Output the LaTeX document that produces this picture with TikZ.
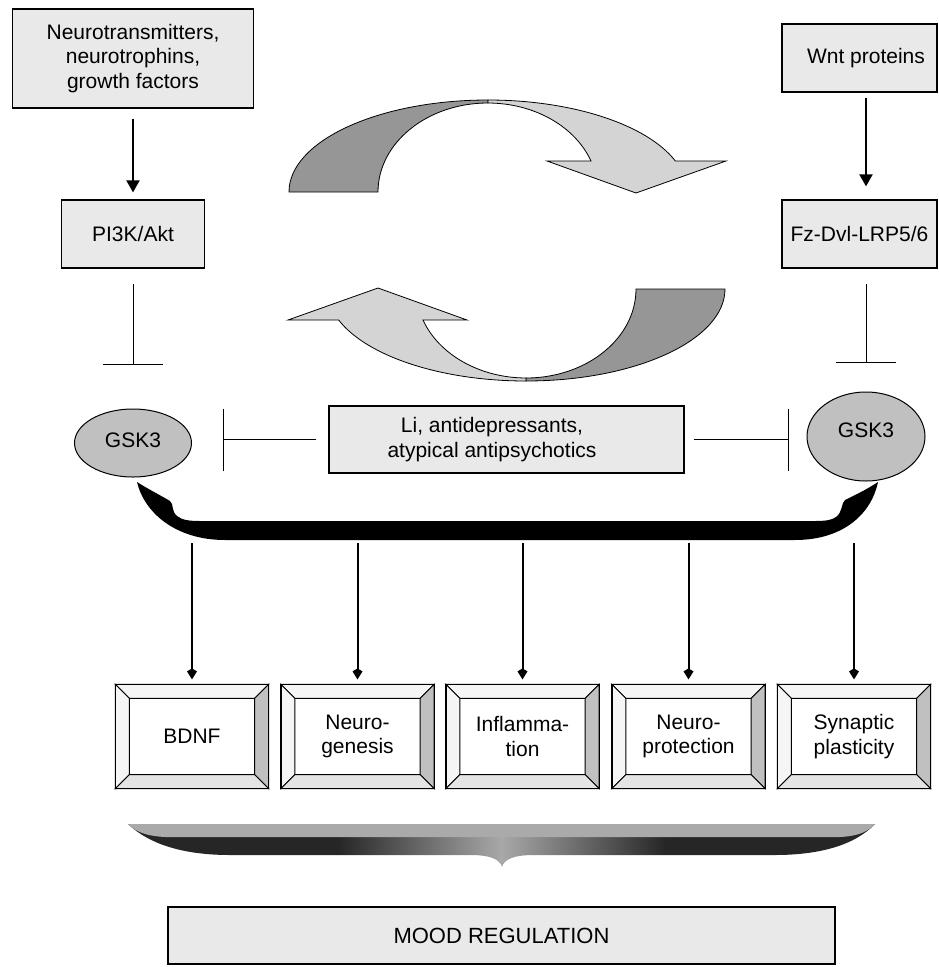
\documentclass[tikz,border=0pt]{standalone}
\usepackage{fontspec}
\setmainfont{Liberation Sans}
\usetikzlibrary{arrows.meta,shapes.geometric,calc}
\definecolor{boxgray}{HTML}{E9E9E9}
\definecolor{gskgray}{HTML}{C0C0C0}
\definecolor{ribdark}{HTML}{969696}
\definecolor{riblight}{HTML}{D4D4D4}
\definecolor{bevlight}{HTML}{F5F5F5}
\definecolor{bevbottom}{HTML}{E4E4E4}
\definecolor{bevright}{HTML}{C0C0C0}
\definecolor{bracedark}{HTML}{262626}
\definecolor{bracemid}{HTML}{A8A8A8}
\definecolor{bracetop}{HTML}{AAAAAA}
\pgfdeclarehorizontalshading{braceshade}{100bp}{color(0bp)=(bracedark); color(39bp)=(bracedark); color(50bp)=(bracemid); color(61bp)=(bracedark); color(100bp)=(bracedark)}
\begin{document}
\begin{tikzpicture}[x=1pt,y=-1pt,
  txt/.style={font=\fontsize{21}{24.5}\selectfont, align=center},
  graybox/.style={draw, line width=1.2pt, fill=boxgray, txt, inner sep=0pt},
  gsk/.style={ellipse, draw, line width=1pt, fill=gskgray, txt, inner sep=0pt},
  arr/.style={line width=2pt, -{Triangle[length=12pt,width=13pt]}},
  downarr/.style={line width=2pt, -{Kite[length=11pt,width=10pt,inset=3pt]}},
  inh/.style={line width=1pt, -{Bar[width=60pt]}},
  ribbon/.style={draw, line width=0.8pt, line join=miter},
  bevbox/.style={draw, line width=1.2pt, fill=white, minimum width=152pt, minimum height=103pt, inner sep=0pt, txt},
  bevel/.style={draw, line width=1pt, line join=miter},
]
\useasboundingbox (0,0) rectangle (938,967);
\clip (0,0) rectangle (938,967);

% top boxes
\node[graybox, minimum width=241pt, minimum height=99pt] (box1) at (133,58.5) {Neurotransmitters,\\neurotrophins,\\growth factors};
\node[graybox, minimum width=143pt, minimum height=68pt] (pi3k) at (133,234) {PI3K/Akt};
\node[graybox, minimum width=155pt, minimum height=68pt, label={[txt, xshift=6.5pt]center:Wnt proteins}] (wnt) at (859.5,58) {};
\node[graybox, minimum width=155pt, minimum height=68pt] (fz) at (859.5,234) {Fz-Dvl-LRP5/6};

% GSK3 and drugs
\node[gsk, minimum width=117pt, minimum height=68pt, label={[txt, yshift=2.5pt]center:GSK3}] (gsk1) at (133,443) {};
\node[gsk, minimum width=118pt, minimum height=89pt, label={[txt, yshift=6.5pt]center:GSK3}] (gsk2) at (866,436.5) {};
\node[graybox, minimum width=355pt, minimum height=67pt, label={[txt, xshift=-14.5pt]center:{Li, antidepressants,\\atypical antipsychotics}}] (drugs) at (506.5,439.5) {};

% activation arrows
\draw[arr, shorten <=10pt, shorten >=7pt] (box1) -- (pi3k);
\draw[arr, shorten <=5pt, shorten >=13pt] ([xshift=6.5pt]wnt.south) -- ([xshift=6.5pt]fz.north);

% inhibition
\draw[inh, shorten <=15pt, shorten >=44pt] (pi3k.south) -- (gsk1.north);
\draw[inh, shorten <=15pt, shorten >=29pt] ([xshift=6.5pt]fz.south) -- (gsk2.north);
\draw[line width=1pt, -{Bar[width=62pt]}, shorten <=12pt, shorten >=31pt] (drugs.west) -- (drugs.west -| gsk1.east);
\draw[line width=1pt, -{Bar[width=62pt]}, shorten <=9pt, shorten >=18pt] (drugs.east) -- (drugs.east -| gsk2.west);

% circular arrows
\path[ribbon, fill=ribdark] (289,192) arc[start angle=180, end angle=270, x radius=199, y radius=92] -- (488,103) arc[start angle=270, end angle=180, x radius=110, y radius=89] -- cycle;
\path[ribbon, fill=riblight] (488,100) arc[start angle=270, end angle=340.3, x radius=199, y radius=92] -- (726,161) -- (636,193) -- (547,161) -- (591,161) arc[start angle=339.6, end angle=270, x radius=110, y radius=89] -- cycle;
\begin{scope}[rotate around={180:(507,240.5)}]
\path[ribbon, fill=ribdark] (289,192) arc[start angle=180, end angle=270, x radius=199, y radius=92] -- (488,103) arc[start angle=270, end angle=180, x radius=110, y radius=89] -- cycle;
\path[ribbon, fill=riblight] (488,100) arc[start angle=270, end angle=340.3, x radius=199, y radius=92] -- (726,161) -- (636,193) -- (547,161) -- (591,161) arc[start angle=339.6, end angle=270, x radius=110, y radius=89] -- cycle;
\end{scope}

% black brace joining GSK3s
\fill[black] (137,482) .. controls (144,512) and (175,540) .. (225,540) -- (795,540) .. controls (845,540) and (872,512) .. (878,482) .. controls (866,490) and (853,496) .. (845,500) .. controls (841,503) and (843,512) .. (836,517) .. controls (832,520) and (826,521) .. (815,521) -- (200,521) .. controls (189,521) and (182,520) .. (177,516) .. controls (171,511) and (174,504) .. (170,501) .. controls (160,495) and (148,489) .. cycle;

% outcome boxes
\foreach \nm/\xx/\tx in {bdnf/192/BDNF, neurog/357.5/{Neuro-\\genesis}, infl/522.5/{Inflamma-\\tion}, neurop/688.5/{Neuro-\\protection}, synp/854/{Synaptic\\plasticity}}{
  \node[bevbox] (\nm) at (\xx,736.5) {\tx};
  \path[bevel, fill=bevlight] (\nm.north west) -- (\nm.north east) -- ($(\nm.north east)+(-14,14)$) -- ($(\nm.north west)+(14,14)$) -- cycle;
  \path[bevel, fill=bevlight] (\nm.north west) -- ($(\nm.north west)+(14,14)$) -- ($(\nm.south west)+(14,-14)$) -- (\nm.south west) -- cycle;
  \path[bevel, fill=bevright] (\nm.north east) -- ($(\nm.north east)+(-14,14)$) -- ($(\nm.south east)+(-14,-14)$) -- (\nm.south east) -- cycle;
  \path[bevel, fill=bevbottom] (\nm.south west) -- ($(\nm.south west)+(14,-14)$) -- ($(\nm.south east)+(-14,-14)$) -- (\nm.south east) -- cycle;
  \draw[line width=1.2pt] (\nm.north west) rectangle (\nm.south east);
  \coordinate (s\nm) at (\xx,543);
  \draw[downarr, shorten >=5pt] (s\nm) -- (\nm.north);
}

% shaded brace
\shade[shading=braceshade] (128,824) .. controls (150,845) and (185,855) .. (230,855) -- (470,855) .. controls (492,855) and (500,860) .. (502,867) .. controls (504,860) and (512,855) .. (534,855) -- (775,855) .. controls (820,855) and (855,845) .. (875,824) -- cycle;
\fill[bracetop] (128,824) -- (875,824) .. controls (868,831) and (860,836) .. (840,837) -- (165,837) .. controls (145,836) and (135,831) .. cycle;

% mood
\node[graybox, minimum width=667pt, minimum height=57pt, font=\fontsize{22}{26}\selectfont] (mood) at (501.5,935.5) {MOOD REGULATION};
\end{tikzpicture}
\end{document}
